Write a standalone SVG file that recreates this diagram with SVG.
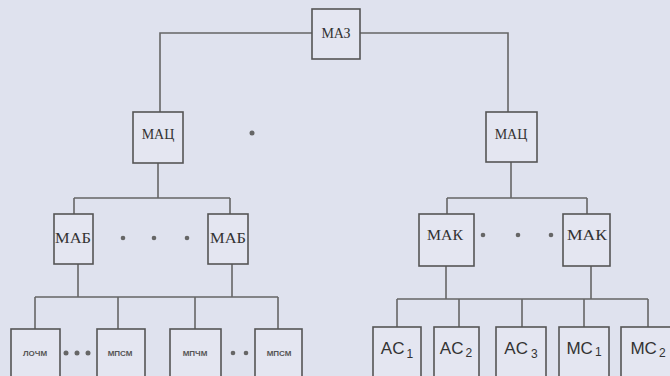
<svg xmlns="http://www.w3.org/2000/svg" width="670" height="376" viewBox="0 0 670 376">
<style>
.bx{fill:#e4e6f1;stroke:#555;stroke-width:1.6}
.ln{fill:none;stroke:#666;stroke-width:1.6}
.t{font-family:"Liberation Serif","DejaVu Serif",serif;font-size:14px;fill:#333;text-anchor:middle}
.ts{font-family:"Liberation Sans","DejaVu Sans",sans-serif;font-size:8px;font-weight:bold;fill:#555;text-anchor:middle}
.ta{font-family:"Liberation Sans","DejaVu Sans",sans-serif;font-size:17px;fill:#333;text-anchor:middle}
.d{fill:#666}
</style>
<rect width="670" height="376" fill="#dfe2ee"/>
<g id="connectors">
<path class="ln" d="M312 33H160V112M360 33H508V112"/>
<path class="ln" d="M158 163V198M74 198H230M74 198V214M230 198V214"/>
<path class="ln" d="M511 162V198M447 198H587M447 198V214M587 198V214"/>
<path class="ln" d="M78 264V297M232 264V297M35 297H278M35 297V329M118 297V329M195 297V329M278 297V329"/>
<path class="ln" d="M446 266V299M591 266V299M397 299H648M397 299V327M459 299V327M522 299V327M584 299V327M648 299V327"/>
</g>
<g id="dots">
<circle class="d" cx="252" cy="133" r="2.5"/>
<circle class="d" cx="123" cy="238" r="2.3"/><circle class="d" cx="154" cy="238" r="2.3"/><circle class="d" cx="187" cy="238" r="2.3"/>
<circle class="d" cx="483" cy="235" r="2.3"/><circle class="d" cx="518" cy="235" r="2.3"/><circle class="d" cx="551" cy="235" r="2.3"/>
<circle class="d" cx="66" cy="353" r="2.5"/><circle class="d" cx="77" cy="353" r="2.5"/><circle class="d" cx="88" cy="353" r="2.5"/>
<circle class="d" cx="233" cy="353" r="2.3"/><circle class="d" cx="246" cy="353" r="2.3"/>
</g>
<g id="maz"><rect class="bx" x="312" y="9" width="48" height="50"/><text class="t" x="336" y="38">МАЗ</text></g>
<g id="mac1"><rect class="bx" x="133" y="112" width="50" height="51"/><text class="t" x="158" y="139">МАЦ</text></g>
<g id="mac2"><rect class="bx" x="486" y="112" width="51" height="50"/><text class="t" x="511" y="139">МАЦ</text></g>
<g id="mab1"><rect class="bx" x="54" y="214" width="39" height="50"/><text class="t" x="73" y="243" textLength="36" lengthAdjust="spacingAndGlyphs">МАБ</text></g>
<g id="mab2"><rect class="bx" x="208" y="214" width="40" height="50"/><text class="t" x="228" y="243" textLength="36" lengthAdjust="spacingAndGlyphs">МАБ</text></g>
<g id="mak1"><rect class="bx" x="419" y="214" width="55" height="52"/><text class="t" x="445" y="240" textLength="36" lengthAdjust="spacingAndGlyphs">МАК</text></g>
<g id="mak2"><rect class="bx" x="563" y="214" width="47" height="52"/><text class="t" x="587" y="240" textLength="40" lengthAdjust="spacingAndGlyphs">МАК</text></g>
<g id="b1"><rect class="bx" x="11" y="329" width="49" height="60"/><text class="ts" x="35" y="356">ЛОЧМ</text></g>
<g id="b2"><rect class="bx" x="97" y="329" width="48" height="60"/><text class="ts" x="120" y="356">МПСМ</text></g>
<g id="b3"><rect class="bx" x="170" y="329" width="51" height="60"/><text class="ts" x="195" y="356">МПЧМ</text></g>
<g id="b4"><rect class="bx" x="255" y="329" width="47" height="60"/><text class="ts" x="279" y="356">МПСМ</text></g>
<g id="ac1"><rect class="bx" x="373" y="327" width="48" height="60"/><text class="ta" x="397" y="354">AC<tspan font-size="12" dx="2" dy="4">1</tspan></text></g>
<g id="ac2"><rect class="bx" x="434" y="327" width="45" height="60"/><text class="ta" x="456" y="354">AC<tspan font-size="12" dx="2" dy="3">2</tspan></text></g>
<g id="ac3"><rect class="bx" x="496" y="327" width="50" height="60"/><text class="ta" x="521" y="354">AC<tspan font-size="12" dx="3" dy="4">3</tspan></text></g>
<g id="mc1"><rect class="bx" x="559" y="327" width="50" height="60"/><text class="ta" x="584" y="354">MC<tspan font-size="12" dx="2" dy="2">1</tspan></text></g>
<g id="mc2"><rect class="bx" x="621" y="327" width="55" height="60"/><text class="ta" x="648" y="354">MC<tspan font-size="12" dx="2" dy="3">2</tspan></text></g>
</svg>
